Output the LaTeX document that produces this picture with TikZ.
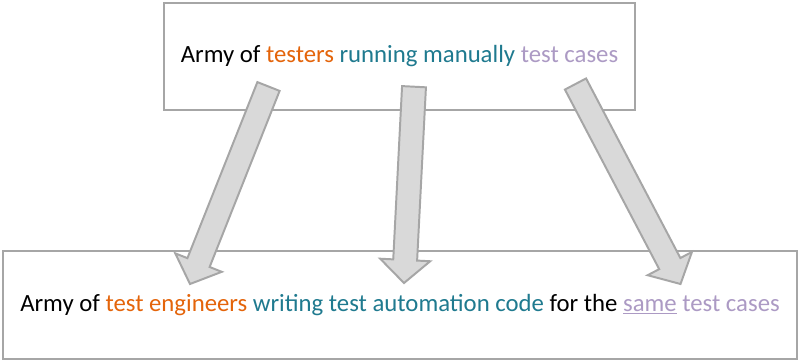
\documentclass[tikz,border=0pt]{standalone}
\usepackage{fontspec}
\setmainfont{Carlito}
\usetikzlibrary{calc}
\definecolor{tstorange}{HTML}{E4640A}
\definecolor{tstteal}{HTML}{1F7A8F}
\definecolor{tstlav}{HTML}{AC9AC4}
\definecolor{boxgray}{HTML}{A6A6A6}
\definecolor{arrfill}{HTML}{D9D9D9}
% block arrow from tail #1 to tip #2
\newcommand{\blockarrow}[2]{%
  \coordinate (hb) at ($(#2)!16.4pt!(#1)$);
  \draw[blockarr] ($(#1)!8.5pt!90:(#2)$) -- ($(hb)!8.5pt!90:(#2)$) -- ($(hb)!17.8pt!90:(#2)$)
    -- (#2) -- ($(hb)!17.8pt!-90:(#2)$) -- ($(hb)!8.5pt!-90:(#2)$) -- ($(#1)!8.5pt!-90:(#2)$) -- cycle;}

\begin{document}
\begin{tikzpicture}[x=0.025cm, y=-0.025cm,
    txtbox/.style={draw=boxgray, line width=1pt, fill=white, align=center, font=\fontsize{17.6}{21}\selectfont},
    blockarr/.style={draw=boxgray, fill=arrfill, line width=1.4pt, line join=miter}
]
\useasboundingbox (0,0) rectangle (800,362);
\node[txtbox, minimum width=11.775cm, minimum height=2.675cm] (manual) at (399.5,56.5)
  {Army of \textcolor{tstorange}{testers} \textcolor{tstteal}{running manually} \textcolor{tstlav}{test cases}};
\node[txtbox, minimum width=19.85cm, minimum height=2.7cm] (auto) at (400,305)
  {Army of \textcolor{tstorange}{test engineers} \textcolor{tstteal}{writing test automation code} for the \textcolor{tstlav}{\underline{same} test cases}};

\coordinate (t1) at (268.5,86.5);
\coordinate (t2) at (414,86.7);
\coordinate (t3) at (575.5,84);
\coordinate (h1) at (190,284);
\coordinate (h2) at (404,283);
\coordinate (h3) at (680.5,284);

\blockarrow{t1}{h1}
\blockarrow{t2}{h2}
\blockarrow{t3}{h3}
\end{tikzpicture}
\end{document}
